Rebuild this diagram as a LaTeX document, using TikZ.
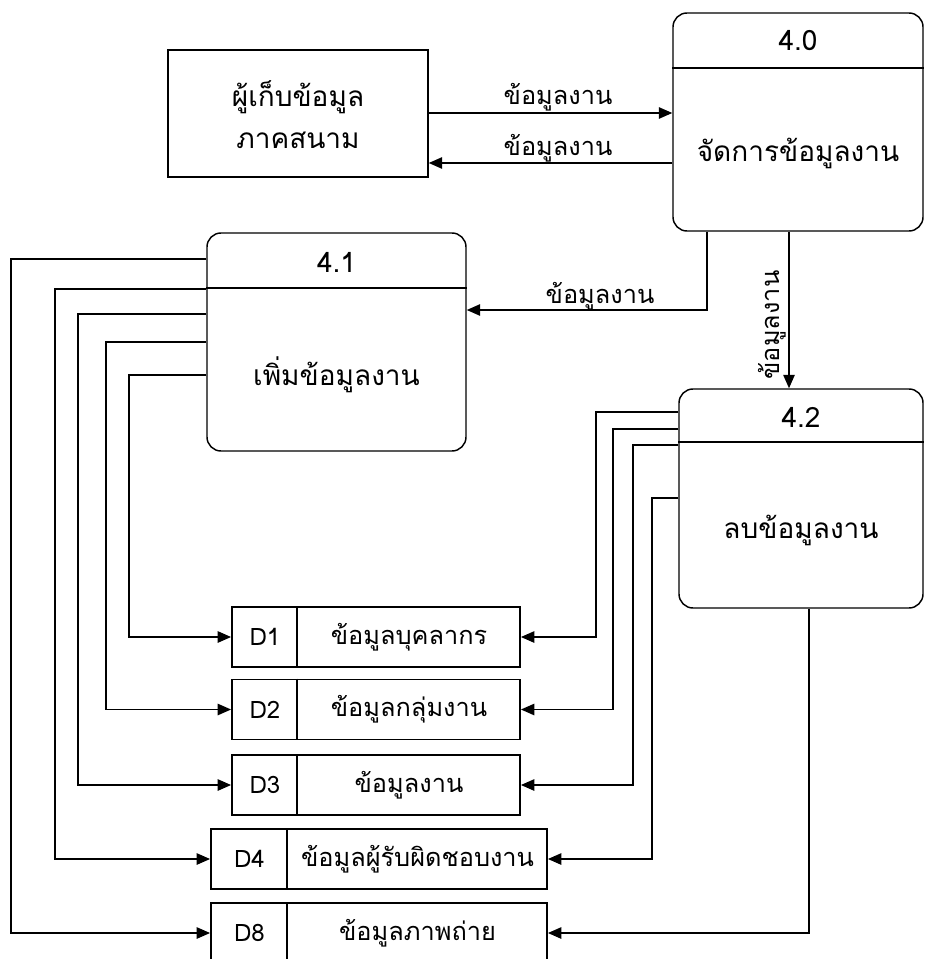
\documentclass[tikz,border=0pt]{standalone}
\usepackage{fontspec}
\newfontfamily\thaifont[Script=Thai]{Loma}
\usetikzlibrary{arrows.meta,calc}
\tikzset{
  flow/.style={line width=1.1pt,-{Triangle[length=10pt,width=8.5pt]}},
  procbox/.style={draw,line width=1.1pt,rounded corners=10.5pt,minimum width=#1},
  extbox/.style={draw,line width=1.1pt},
  storebox/.style={draw,line width=1.4pt,minimum height=45pt},
  lbl/.style={font=\thaifont\fontsize{19}{22}\selectfont,inner sep=1pt},
  ptxt/.style={font=\thaifont\fontsize{21}{24}\selectfont,inner sep=1pt},
  idtxt/.style={font=\thaifont\fontsize{18}{21}\selectfont,inner sep=1pt},
}
\begin{document}
\begin{tikzpicture}[x=0.75pt,y=-0.75pt]
\useasboundingbox (0,0) rectangle (926,959);
\clip (0,0) rectangle (926,959);
% external entity
\node[extbox,minimum width=195pt,minimum height=95.25pt] (ext) at (298,113.5) {};
\node[ptxt] (ext1) at (298,97) {ผู้เก็บข้อมูล};
\node[ptxt] (ext2) at (298,140) {ภาคสนาม};
% process 4.0
\node[procbox=187.5pt,minimum height=163.5pt] (p40) at (798,122) {};
\draw[line width=1.1pt] (p40.west |- 0,68) -- (p40.east |- 0,68);
\node[ptxt] (p40n) at (798,41) {4.0};
\node[ptxt] (p40t) at (798,153) {จัดการข้อมูลงาน};
% process 4.1
\node[procbox=194.25pt,minimum height=163.5pt] (p41) at (336.5,342) {};
\draw[line width=1.1pt] (p41.west |- 0,288) -- (p41.east |- 0,288);
\node[ptxt] (p41n) at (336.5,262) {4.1};
\node[ptxt] (p41t) at (336.5,375) {เพิ่มข้อมูลงาน};
% process 4.2
\node[procbox=183pt,minimum height=164.25pt] (p42) at (801,498.5) {};
\draw[line width=1.1pt] (p42.west |- 0,442) -- (p42.east |- 0,442);
\node[ptxt] (p42n) at (801,417) {4.2};
\node[ptxt] (p42t) at (801,530) {ลบข้อมูลงาน};
% data stores
\node[storebox,minimum width=216pt] (d1) at (376,637) {};
\node[storebox,minimum width=216pt] (d2) at (376,709.5) {};
\node[storebox,minimum width=216pt] (d3) at (376,785) {};
\node[storebox,minimum width=252pt] (d4) at (379,859) {};
\node[storebox,minimum width=252pt] (d8) at (379,933) {};
\foreach \d in {d1,d2,d3}{
  \draw[line width=1.4pt] ([xshift=49.5pt]\d.north west) -- ([xshift=49.5pt]\d.south west);
}
\foreach \d in {d4,d8}{
  \draw[line width=1.4pt] ([xshift=57.75pt]\d.north west) -- ([xshift=57.75pt]\d.south west);
}
\node[idtxt] (d1id) at (265,637) {D1};
\node[lbl] (d1t) at (409,637) {ข้อมูลบุคลากร};
\node[idtxt] (d2id) at (265,709.5) {D2};
\node[lbl] (d2t) at (409,709.5) {ข้อมูลกลุ่มงาน};
\node[idtxt] (d3id) at (265,785) {D3};
\node[lbl] (d3t) at (409,785) {ข้อมูลงาน};
\node[idtxt] (d4id) at (249.5,859) {D4};
\node[lbl] (d4t) at (417.5,859) {ข้อมูลผู้รับผิดชอบงาน};
\node[idtxt] (d8id) at (249.5,933) {D8};
\node[lbl] (d8t) at (417.5,933) {ข้อมูลภาพถ่าย};
% flows top
\draw[flow] (ext.east |- 0,113) -- (p40.west |- 0,113);
\draw[flow] (p40.west |- 0,163) -- (ext.east |- 0,163);
\node[lbl] (f1) at (558,97) {ข้อมูลงาน};
\node[lbl] (f2) at (558,148) {ข้อมูลงาน};
\draw[flow] (p40.south -| 707,0) -- (707,310) -- (p41.east |- 0,310);
\node[lbl] (f3) at (600,296) {ข้อมูลงาน};
\draw[flow] (p40.south -| 789,0) -- (p42.north -| 789,0);
\node[lbl,rotate=90] (f4) at (772,325) {ข้อมูลงาน};
% flows from 4.1
\draw[flow] (p41.west |- 0,375) -- (129,375) |- (d1.west);
\draw[flow] (p41.west |- 0,342) -- (106,342) |- (d2.west);
\draw[flow] (p41.west |- 0,314) -- (78,314) |- (d3.west);
\draw[flow] (p41.west |- 0,289) -- (55,289) |- (d4.west);
\draw[flow] (p41.west |- 0,259) -- (11,259) |- (d8.west);
% flows from 4.2
\draw[flow] (p42.west |- 0,412) -- (596,412) |- (d1.east);
\draw[flow] (p42.west |- 0,429) -- (613,429) |- (d2.east);
\draw[flow] (p42.west |- 0,445) -- (633,445) |- (d3.east);
\draw[flow] (p42.west |- 0,498) -- (652,498) |- (d4.east);
\draw[flow] (p42.south -| 809,0) |- (d8.east);
\end{tikzpicture}
\end{document}
